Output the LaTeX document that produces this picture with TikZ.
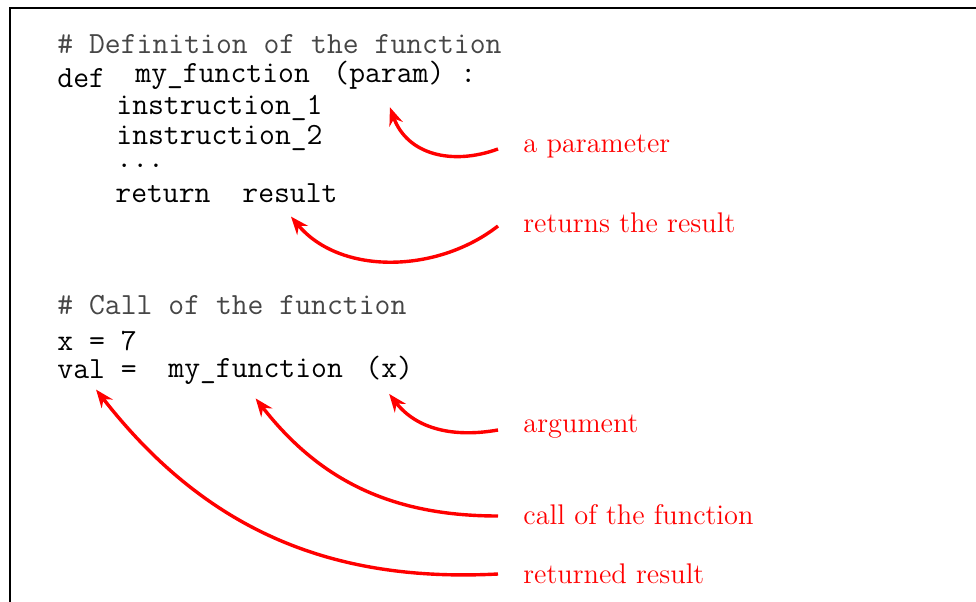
\documentclass[tikz,border=0pt]{standalone}
\usetikzlibrary{arrows.meta,calc}
\definecolor{cmtgray}{RGB}{70,70,70}
\definecolor{lblred}{RGB}{255,0,0}
\tikzset{
  code/.style={anchor=base west,inner sep=0pt,font=\fontsize{15.4}{18}\selectfont\ttfamily},
  cmt/.style={code,text=cmtgray},
  lbl/.style={anchor=base west,inner sep=0pt,text=lblred,font=\fontsize{14.2}{17}\selectfont},
  conn/.style={draw=lblred,line width=1.7pt,-{Stealth[length=9pt,width=7pt]}},
  frame/.style={draw=black,line width=1pt}
}
\begin{document}
\begin{tikzpicture}[x=0.5pt,y=0.5pt]
\useasboundingbox (0,0) rectangle (976,601);
\clip (0,0) rectangle (976,601);
\draw[frame] (10,-30) -- (10,593) -- (1010,593);
% definition block
\node[cmt] (c1) at (57,547) {\# Definition of the function};
\node[code] (def) at (57,513) {def};
\node[code] (fname) at (135,518) {my\_function};
\node[code] (param) at (333,518) {(param)};
\node[code] (colon) at (460,518) {:};
\node[code] (i1) at (116,486) {instruction\_1};
\node[code,text depth=0pt] (i2) at (116,456) {instruction\_2};
\node[code] (dots) at (116,433) {...};
\node[code] (ret) at (115,398) {return};
\node[code] (res) at (242,398) {result};
% call block
\node[cmt] (c2) at (57,286) {\# Call of the function};
\node[code] (x7) at (57,250) {x = 7};
\node[code] (val) at (57,222) {val =};
\node[code] (fname2) at (168,224) {my\_function};
\node[code] (argx) at (365,224) {(x)};
% labels
\node[lbl] (l1) at (523,448) {a parameter};
\node[lbl] (l2) at (523,368) {returns the result};
\node[lbl] (l3) at (523,169) {argument};
\node[lbl] (l4) at (523,76) {call of the function};
\node[lbl] (l5) at (523,18) {returned result};
% arrow tips
\coordinate (t1) at ($(param.south)+(1,-17)$);
\coordinate (t2) at ($(res.south)+(1,-13)$);
\coordinate (t3) at ($(argx.south)+(0,-14)$);
\coordinate (t4) at ($(fname2.south)+(0,-14)$);
\coordinate (t5) at ($(val.south)+(-1,-10)$);
% arrows
\draw[conn] ($(l1.base west)+(-25,4)$) to[out=200,in=-70,looseness=1.1] (t1);
\draw[conn] ($(l2.base west)+(-25,7)$) to[out=218,in=-50,looseness=0.95] (t2);
\draw[conn] ($(l3.base west)+(-25,2)$) to[out=190,in=-52,looseness=1] (t3);
\draw[conn] ($(l4.base west)+(-25,9)$) to[out=180,in=-52,looseness=1] (t4);
\draw[conn] ($(l5.base west)+(-25,9)$) to[out=183,in=-52,looseness=1] (t5);
\end{tikzpicture}
\end{document}
